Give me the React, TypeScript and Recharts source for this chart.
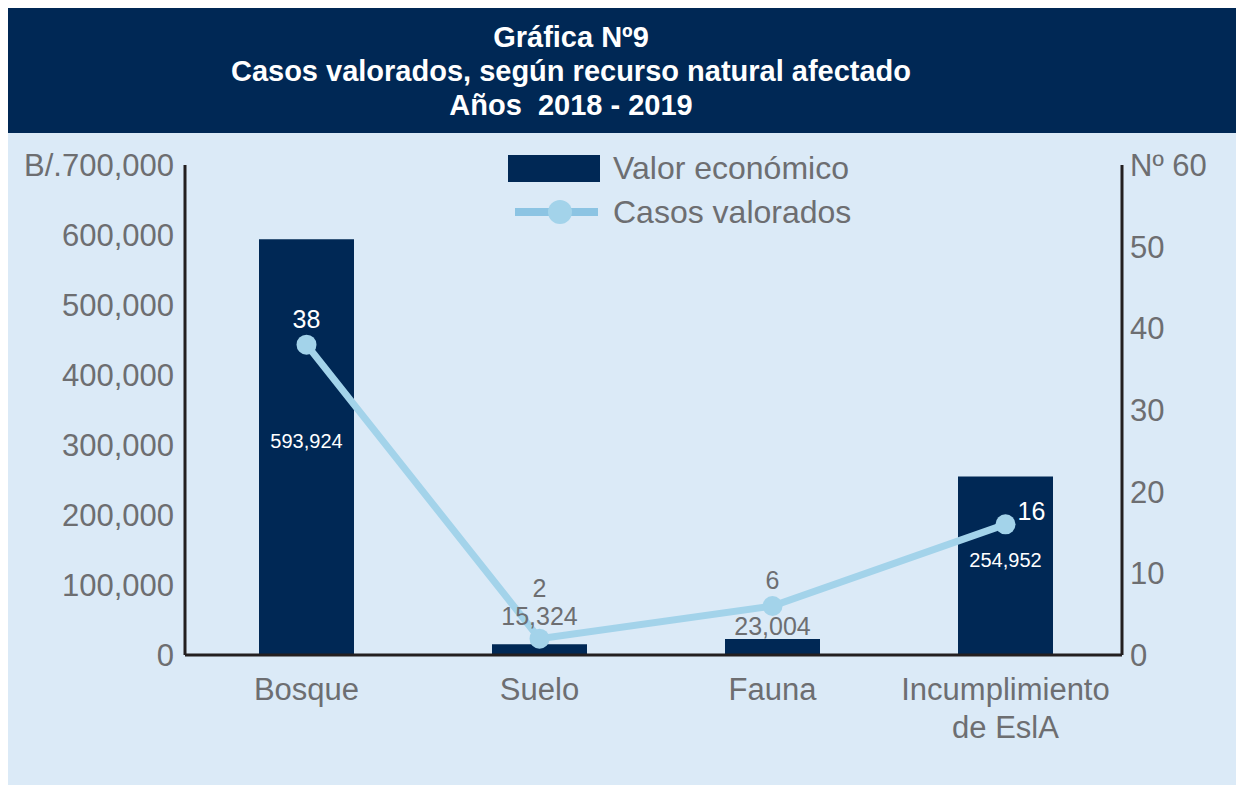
import React from "react";
import {
  ComposedChart,
  Bar,
  Line,
  XAxis,
  YAxis,
  LabelList,
} from "recharts";

const categories = ["Bosque", "Suelo", "Fauna", "Incumplimiento de EslA"];
const valorEconomico = [593924, 15324, 23004, 254952];
const casosValorados = [38, 2, 6, 16];
const leftTicks = [0, 100000, 200000, 300000, 400000, 500000, 600000, 700000];
const rightTicks = [0, 10, 20, 30, 40, 50, 60];

const NAVY = "#002855";
const LIGHT = "#a3d3ea";
const GREY = "#6d6e71";
const AXIS = "#231f20";
const FONT = "'Liberation Sans', Arial, sans-serif";

const data = categories.map((name, i) => ({
  name,
  valor: valorEconomico[i],
  casos: casosValorados[i],
}));

const fmt = (v: number) => v.toLocaleString("en-US");

const CategoryTick = (props: any) => {
  const { x, y, payload } = props;
  const words = String(payload.value).split(" ");
  const lines =
    words.length > 1 ? [words[0], words.slice(1).join(" ")] : [words[0]];
  return (
    <text x={x} y={y} textAnchor="middle" fill={GREY} fontSize={31} fontFamily={FONT}>
      {lines.map((l, i) => (
        <tspan key={i} x={x} dy={i === 0 ? 37 : 38}>
          {l}
        </tspan>
      ))}
    </text>
  );
};

const BarValueLabel = (props: any) => {
  const { x, y, width, height, value, index } = props;
  const cx = x + width / 2;
  if (height > 100) {
    return (
      <text x={cx} y={y + height / 2 - 6} textAnchor="middle" dominantBaseline="central"
        fill="#ffffff" fontSize={20} fontFamily={FONT}>
        {fmt(value)}
      </text>
    );
  }
  const lift = index === 1 ? 28 : 13;
  return (
    <text x={cx} y={y - lift} textAnchor="middle" dominantBaseline="central"
      fill={GREY} fontSize={25} fontFamily={FONT}>
      {fmt(value)}
    </text>
  );
};

const LineValueLabel = (props: any) => {
  const { x, y, value, index } = props;
  let dx = 0;
  let dy = -26;
  let color = GREY;
  if (index === 0) color = "#ffffff";
  if (index === 1) dy = -51;
  if (index === 3) {
    dx = 26;
    dy = -13;
    color = "#ffffff";
  }
  return (
    <text x={x + dx} y={y + dy} textAnchor="middle" dominantBaseline="central"
      fill={color} fontSize={25} fontFamily={FONT}>
      {value}
    </text>
  );
};

const ChartLegend = () => (
  <div
    style={{
      position: "absolute",
      left: 500,
      top: 13,
      fontFamily: FONT,
      fontSize: 32,
      color: GREY,
    }}
  >
    <div style={{ display: "flex", alignItems: "center", height: 44 }}>
      <div style={{ width: 92, height: 27, background: NAVY, marginRight: 13 }} />
      <span>Valor económico</span>
    </div>
    <div style={{ display: "flex", alignItems: "center", height: 44 }}>
      <svg width={105} height={30}>
        <line x1={7} y1={15} x2={90} y2={15} stroke="#8cc4e3" strokeWidth={8} />
        <circle cx={52} cy={15} r={12} fill={LIGHT} />
      </svg>
      <span>Casos valorados</span>
    </div>
  </div>
);

export default function App() {
  return (
    <div style={{ width: 1228, fontFamily: FONT }}>
      <div
        style={{
          height: 125,
          background: NAVY,
          color: "#ffffff",
          fontWeight: "bold",
          fontSize: 29,
          lineHeight: "34px",
          textAlign: "center",
          paddingTop: 12,
          paddingRight: 102,
          boxSizing: "border-box",
        }}
      >
        <div>Gráfica Nº9</div>
        <div>Casos valorados, según recurso natural afectado</div>
        <div>Años&nbsp; 2018 - 2019</div>
      </div>
      <div style={{ background: "#dbeaf7", height: 652, position: "relative" }}>
        <ComposedChart
          width={1228}
          height={652}
          data={data}
          margin={{ top: 32, right: 0, bottom: 0, left: 0 }}
          barCategoryGap={0}
        >
          <XAxis
            dataKey="name"
            height={130}
            padding={{ left: 5, right: 0 }}
            tickLine={false}
            axisLine={{ stroke: AXIS, strokeWidth: 3 }}
            tick={<CategoryTick />}
            interval={0}
          />
          <YAxis
            yAxisId="left"
            width={177}
            domain={[0, 700000]}
            ticks={leftTicks}
            tickLine={false}
            tickMargin={5}
            axisLine={{ stroke: AXIS, strokeWidth: 3 }}
            tick={{ fill: GREY, fontSize: 31, fontFamily: FONT }}
            tickFormatter={(v: number) => (v === 700000 ? "B/." + fmt(v) : fmt(v))}
          />
          <YAxis
            yAxisId="right"
            orientation="right"
            width={114}
            domain={[0, 60]}
            ticks={rightTicks}
            tickLine={false}
            axisLine={{ stroke: AXIS, strokeWidth: 3 }}
            tick={{ fill: GREY, fontSize: 31, fontFamily: FONT, textAnchor: "start" }}
            tickFormatter={(v: number) => (v === 60 ? "Nº 60" : String(v))}
          />
          <Bar
            yAxisId="left"
            dataKey="valor"
            name="Valor económico"
            fill={NAVY}
            barSize={95}
            isAnimationActive={false}
          >
            <LabelList dataKey="valor" content={<BarValueLabel />} />
          </Bar>
          <Line
            yAxisId="right"
            dataKey="casos"
            name="Casos valorados"
            stroke={LIGHT}
            strokeWidth={7}
            dot={{ r: 10, fill: LIGHT, stroke: "none" }}
            activeDot={false}
            isAnimationActive={false}
          >
            <LabelList dataKey="casos" content={<LineValueLabel />} />
          </Line>
        </ComposedChart>
        <ChartLegend />
      </div>
    </div>
  );
}
